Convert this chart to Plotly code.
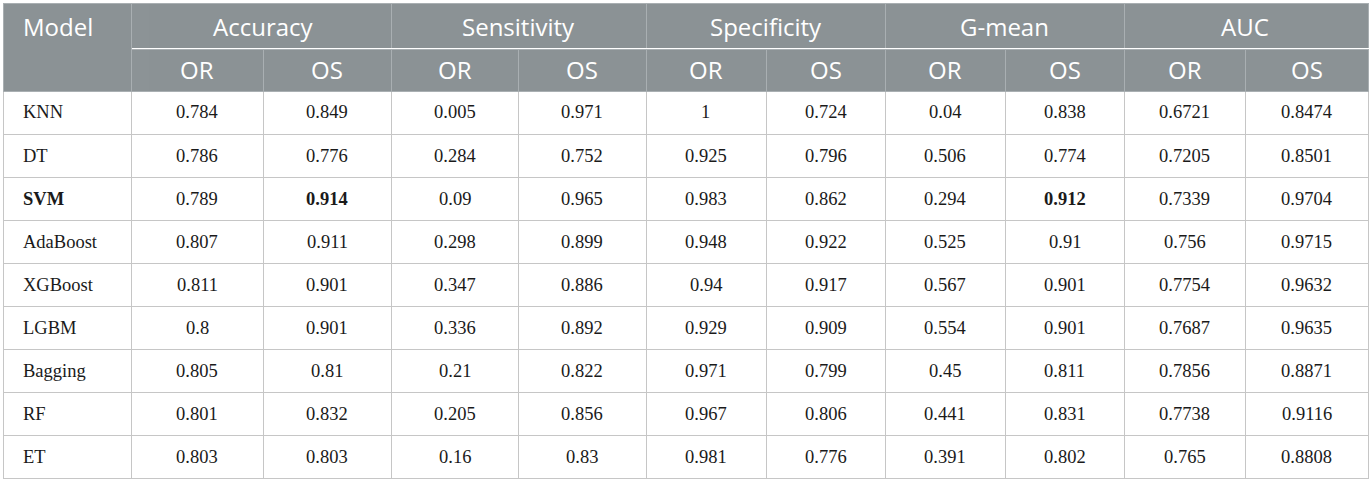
import plotly.graph_objects as go

models = ["KNN", "DT", "SVM", "AdaBoost", "XGBoost", "LGBM", "Bagging", "RF", "ET"]
metrics = ["Accuracy", "Sensitivity", "Specificity", "G-mean", "AUC"]
sub_labels = ["OR", "OS"]

accuracy_or = ["0.784", "0.786", "0.789", "0.807", "0.811", "0.8", "0.805", "0.801", "0.803"]
accuracy_os = ["0.849", "0.776", "0.914", "0.911", "0.901", "0.901", "0.81", "0.832", "0.803"]
sensitivity_or = ["0.005", "0.284", "0.09", "0.298", "0.347", "0.336", "0.21", "0.205", "0.16"]
sensitivity_os = ["0.971", "0.752", "0.965", "0.899", "0.886", "0.892", "0.822", "0.856", "0.83"]
specificity_or = ["1", "0.925", "0.983", "0.948", "0.94", "0.929", "0.971", "0.967", "0.981"]
specificity_os = ["0.724", "0.796", "0.862", "0.922", "0.917", "0.909", "0.799", "0.806", "0.776"]
gmean_or = ["0.04", "0.506", "0.294", "0.525", "0.567", "0.554", "0.45", "0.441", "0.391"]
gmean_os = ["0.838", "0.774", "0.912", "0.91", "0.901", "0.901", "0.811", "0.831", "0.802"]
auc_or = ["0.6721", "0.7205", "0.7339", "0.756", "0.7754", "0.7687", "0.7856", "0.7738", "0.765"]
auc_os = ["0.8474", "0.8501", "0.9704", "0.9715", "0.9632", "0.9635", "0.8871", "0.9116", "0.8808"]

# bold cells (best model / best values)
bold_model = "SVM"
bold_cells = {("Accuracy", "OS"): "0.914", ("G-mean", "OS"): "0.912"}

series = {
    "Accuracy": (accuracy_or, accuracy_os),
    "Sensitivity": (sensitivity_or, sensitivity_os),
    "Specificity": (specificity_or, specificity_os),
    "G-mean": (gmean_or, gmean_os),
    "AUC": (auc_or, auc_os),
}

# layout constants (pixels)
W, H = 1372, 482
ML, MR, MT, MB = 3, 4, 3, 3
PW, PH = W - ML - MR, H - MT - MB
col_widths = [128, 132, 128, 127, 128, 120, 119, 120, 119, 121, 123]
top_h, sub_h, row_h = 46, 42, 43
name_pad = 18

HEAD_FILL = "#8b9295"
HEAD_LINE = "#a9afb2"
BODY_LINE = "#c6c6c6"
head_font = dict(family="Open Sans", size=24, color="white")
body_font = dict(family="Liberation Serif", size=18.5, color="#1a1a1a")


def bold(v, cond):
    return f"<b>{v}</b>" if cond else v


edges = [0]
for w in col_widths:
    edges.append(edges[-1] + w)
centers = [(a + b) / 2 for a, b in zip(edges[:-1], edges[1:])]
n = len(models)
blank = [""] * n
ncol = len(col_widths)

fig = go.Figure()

# main grid: second header row + body (all 11 columns)
fig.add_trace(go.Table(
    domain=dict(x=[0, 1], y=[0, 1 - top_h / PH]),
    columnwidth=col_widths,
    header=dict(values=[""] * ncol, height=sub_h,
                fill_color=HEAD_FILL, line_color=HEAD_LINE, font=head_font),
    cells=dict(values=[blank] * ncol, height=row_h, fill_color="white",
               line_color=BODY_LINE, font=body_font),
))
# first header row: merged metric cells
group_widths = [col_widths[1 + 2 * i] + col_widths[2 + 2 * i] for i in range(len(metrics))]
fig.add_trace(go.Table(
    domain=dict(x=[edges[1] / PW, 1], y=[1 - top_h / PH, 1]),
    columnwidth=group_widths,
    header=dict(values=[""] * len(metrics), height=top_h,
                fill_color=HEAD_FILL, line_color=HEAD_LINE, font=head_font),
    cells=dict(values=[[] for _ in metrics], height=0),
))
# "Model" header spanning both header rows
fig.add_trace(go.Table(
    domain=dict(x=[0, edges[1] / PW], y=[1 - (top_h + sub_h) / PH, 1]),
    columnwidth=[col_widths[0]],
    header=dict(values=[""], height=top_h + sub_h,
                fill_color=HEAD_FILL, line_color=HEAD_LINE, font=head_font),
    cells=dict(values=[[]], height=0),
))

# ---- text, vertically centred in each cell (paper coordinates) ----
def px(x):
    return x / PW


def py(y):
    return 1 - y / PH


y_top = top_h / 2
y_sub = top_h + sub_h / 2
y_rows = [top_h + sub_h + row_h * (k + 0.5) for k in range(n)]

ann = []
ann.append(dict(x=px(name_pad), y=py(y_top), text="Model", xanchor="left",
                yanchor="middle", font=head_font))
for i, metric in enumerate(metrics):
    c0 = 1 + 2 * i
    ann.append(dict(x=px(edges[c0 + 1]), y=py(y_top), text=metric, xanchor="center",
                    yanchor="middle", font=head_font))
    for j, lab in enumerate(sub_labels):
        ann.append(dict(x=px(centers[c0 + j]), y=py(y_sub), text=lab, xanchor="center",
                        yanchor="middle", font=head_font))

for k, m in enumerate(models):
    ann.append(dict(x=px(name_pad), y=py(y_rows[k]), text=bold(m, m == bold_model),
                    xanchor="left", yanchor="middle", font=body_font))
for i, metric in enumerate(metrics):
    c0 = 1 + 2 * i
    for j, (lab, vals) in enumerate(zip(sub_labels, series[metric])):
        target = bold_cells.get((metric, lab))
        for k, v in enumerate(vals):
            ann.append(dict(x=px(centers[c0 + j]), y=py(y_rows[k]), text=bold(v, v == target),
                            xanchor="center", yanchor="middle", font=body_font))

for a in ann:
    a.update(xref="paper", yref="paper", showarrow=False)

fig.update_layout(
    width=W, height=H, margin=dict(l=ML, r=MR, t=MT, b=MB),
    paper_bgcolor="white", showlegend=False, annotations=ann,
)
fig.write_html(
    "out.html",
    config={"displayModeBar": False},
    post_script="document.body.style.margin='0';document.body.style.overflow='hidden';",
)
